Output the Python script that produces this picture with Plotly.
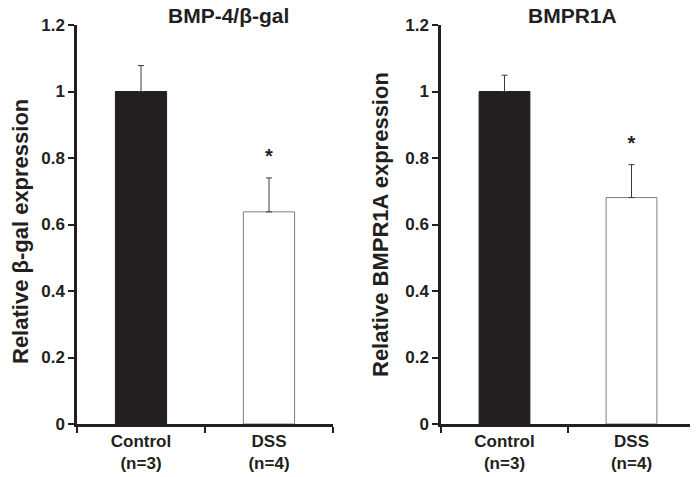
import plotly.graph_objects as go

categories = ["Control<br>(n=3)", "DSS<br>(n=4)"]
bmp4_values = [1.0, 0.638]
bmp4_errors = [0.078, 0.102]
bmpr1a_values = [1.0, 0.681]
bmpr1a_errors = [0.049, 0.099]
y_ticks = [0, 0.2, 0.4, 0.6, 0.8, 1.0, 1.2]
y_tick_labels = ["0", "0.2", "0.4", "0.6", "0.8", "1", "1.2"]
panel_titles = ["BMP-4/β-gal", "BMPR1A"]
y_titles = ["Relative β-gal expression", "Relative BMPR1A expression"]
star_offset = 0.06

FONT = "Liberation Sans, Arial, sans-serif"
INK = "#231f20"
fills = [INK, "#ffffff"]
outlines = [INK, "#7f7f7f"]
W, H = 698, 477
OFF = 8  # page body margin


def bold(s):
    return "<br>".join("<b>%s</b>" % part for part in s.split("<br>"))


def px(x):
    return (x - OFF) / W


def py(y):
    return 1 - (y - OFF) / H


fig = go.Figure()

panels = [
    (bmp4_values, bmp4_errors, "x", "y"),
    (bmpr1a_values, bmpr1a_errors, "x2", "y2"),
]

for vals, errs, xa, ya in panels:
    fig.add_trace(go.Bar(
        x=categories, y=vals, xaxis=xa, yaxis=ya,
        marker=dict(color=fills, line=dict(color=outlines, width=1)),
        width=0.4,
        error_y=dict(type="data", array=errs, arrayminus=[0, 0],
                     symmetric=False, color="#3a3a3a", thickness=1, width=3),
        showlegend=False,
    ))
    fig.add_trace(go.Scatter(
        x=[categories[1]], y=[vals[1] + errs[1] + star_offset],
        xaxis=xa, yaxis=ya, mode="text", text=["<b>*</b>"],
        textfont=dict(family=FONT, size=20, color=INK),
        showlegend=False, hoverinfo="skip",
    ))

ydom = [py(424), py(25)]
axis_common = dict(showline=True, linecolor=INK, linewidth=2.5,
                   showgrid=False, zeroline=False, automargin=False)
xtick = dict(tickmode="array", tickvals=categories,
             ticktext=[bold(c) for c in categories],
             ticks="outside", tickson="boundaries", ticklen=6, tickwidth=2,
             tickcolor=INK, tickfont=dict(family=FONT, size=17, color=INK))
ytick = dict(range=[0, 1.2], tickmode="array", tickvals=y_ticks,
             ticktext=[bold(t) for t in y_tick_labels],
             ticks="outside", ticklen=6, tickwidth=2, tickcolor=INK,
             tickfont=dict(family=FONT, size=17, color=INK))

fig.update_layout(
    width=W, height=H,
    margin=dict(l=0, r=0, t=0, b=0),
    paper_bgcolor="white", plot_bgcolor="white",
    font=dict(family=FONT, color=INK),
    xaxis=dict(domain=[px(77), px(333)], anchor="y", range=[-0.5, 1.5], **xtick, **axis_common),
    yaxis=dict(domain=ydom, anchor="x", **ytick, **axis_common),
    xaxis2=dict(domain=[px(441), px(695)], anchor="y2", range=[-0.5, 1.5], **xtick, **axis_common),
    yaxis2=dict(domain=ydom, anchor="x2", **ytick, **axis_common),
    annotations=[
        dict(text=bold(panel_titles[0]), x=px(229), y=py(16), xref="paper", yref="paper",
             showarrow=False, xanchor="center", yanchor="middle",
             font=dict(family=FONT, size=21, color=INK)),
        dict(text=bold(panel_titles[1]), x=px(572), y=py(16), xref="paper", yref="paper",
             showarrow=False, xanchor="center", yanchor="middle",
             font=dict(family=FONT, size=21, color=INK)),
        dict(text=bold(y_titles[0]), x=px(21), y=py(232), xref="paper", yref="paper",
             showarrow=False, xanchor="center", yanchor="middle", textangle=-90,
             font=dict(family=FONT, size=22, color=INK)),
        dict(text=bold(y_titles[1]), x=px(380), y=py(225), xref="paper", yref="paper",
             showarrow=False, xanchor="center", yanchor="middle", textangle=-90,
             font=dict(family=FONT, size=22, color=INK)),
    ],
)

fig.write_html("out.html")
